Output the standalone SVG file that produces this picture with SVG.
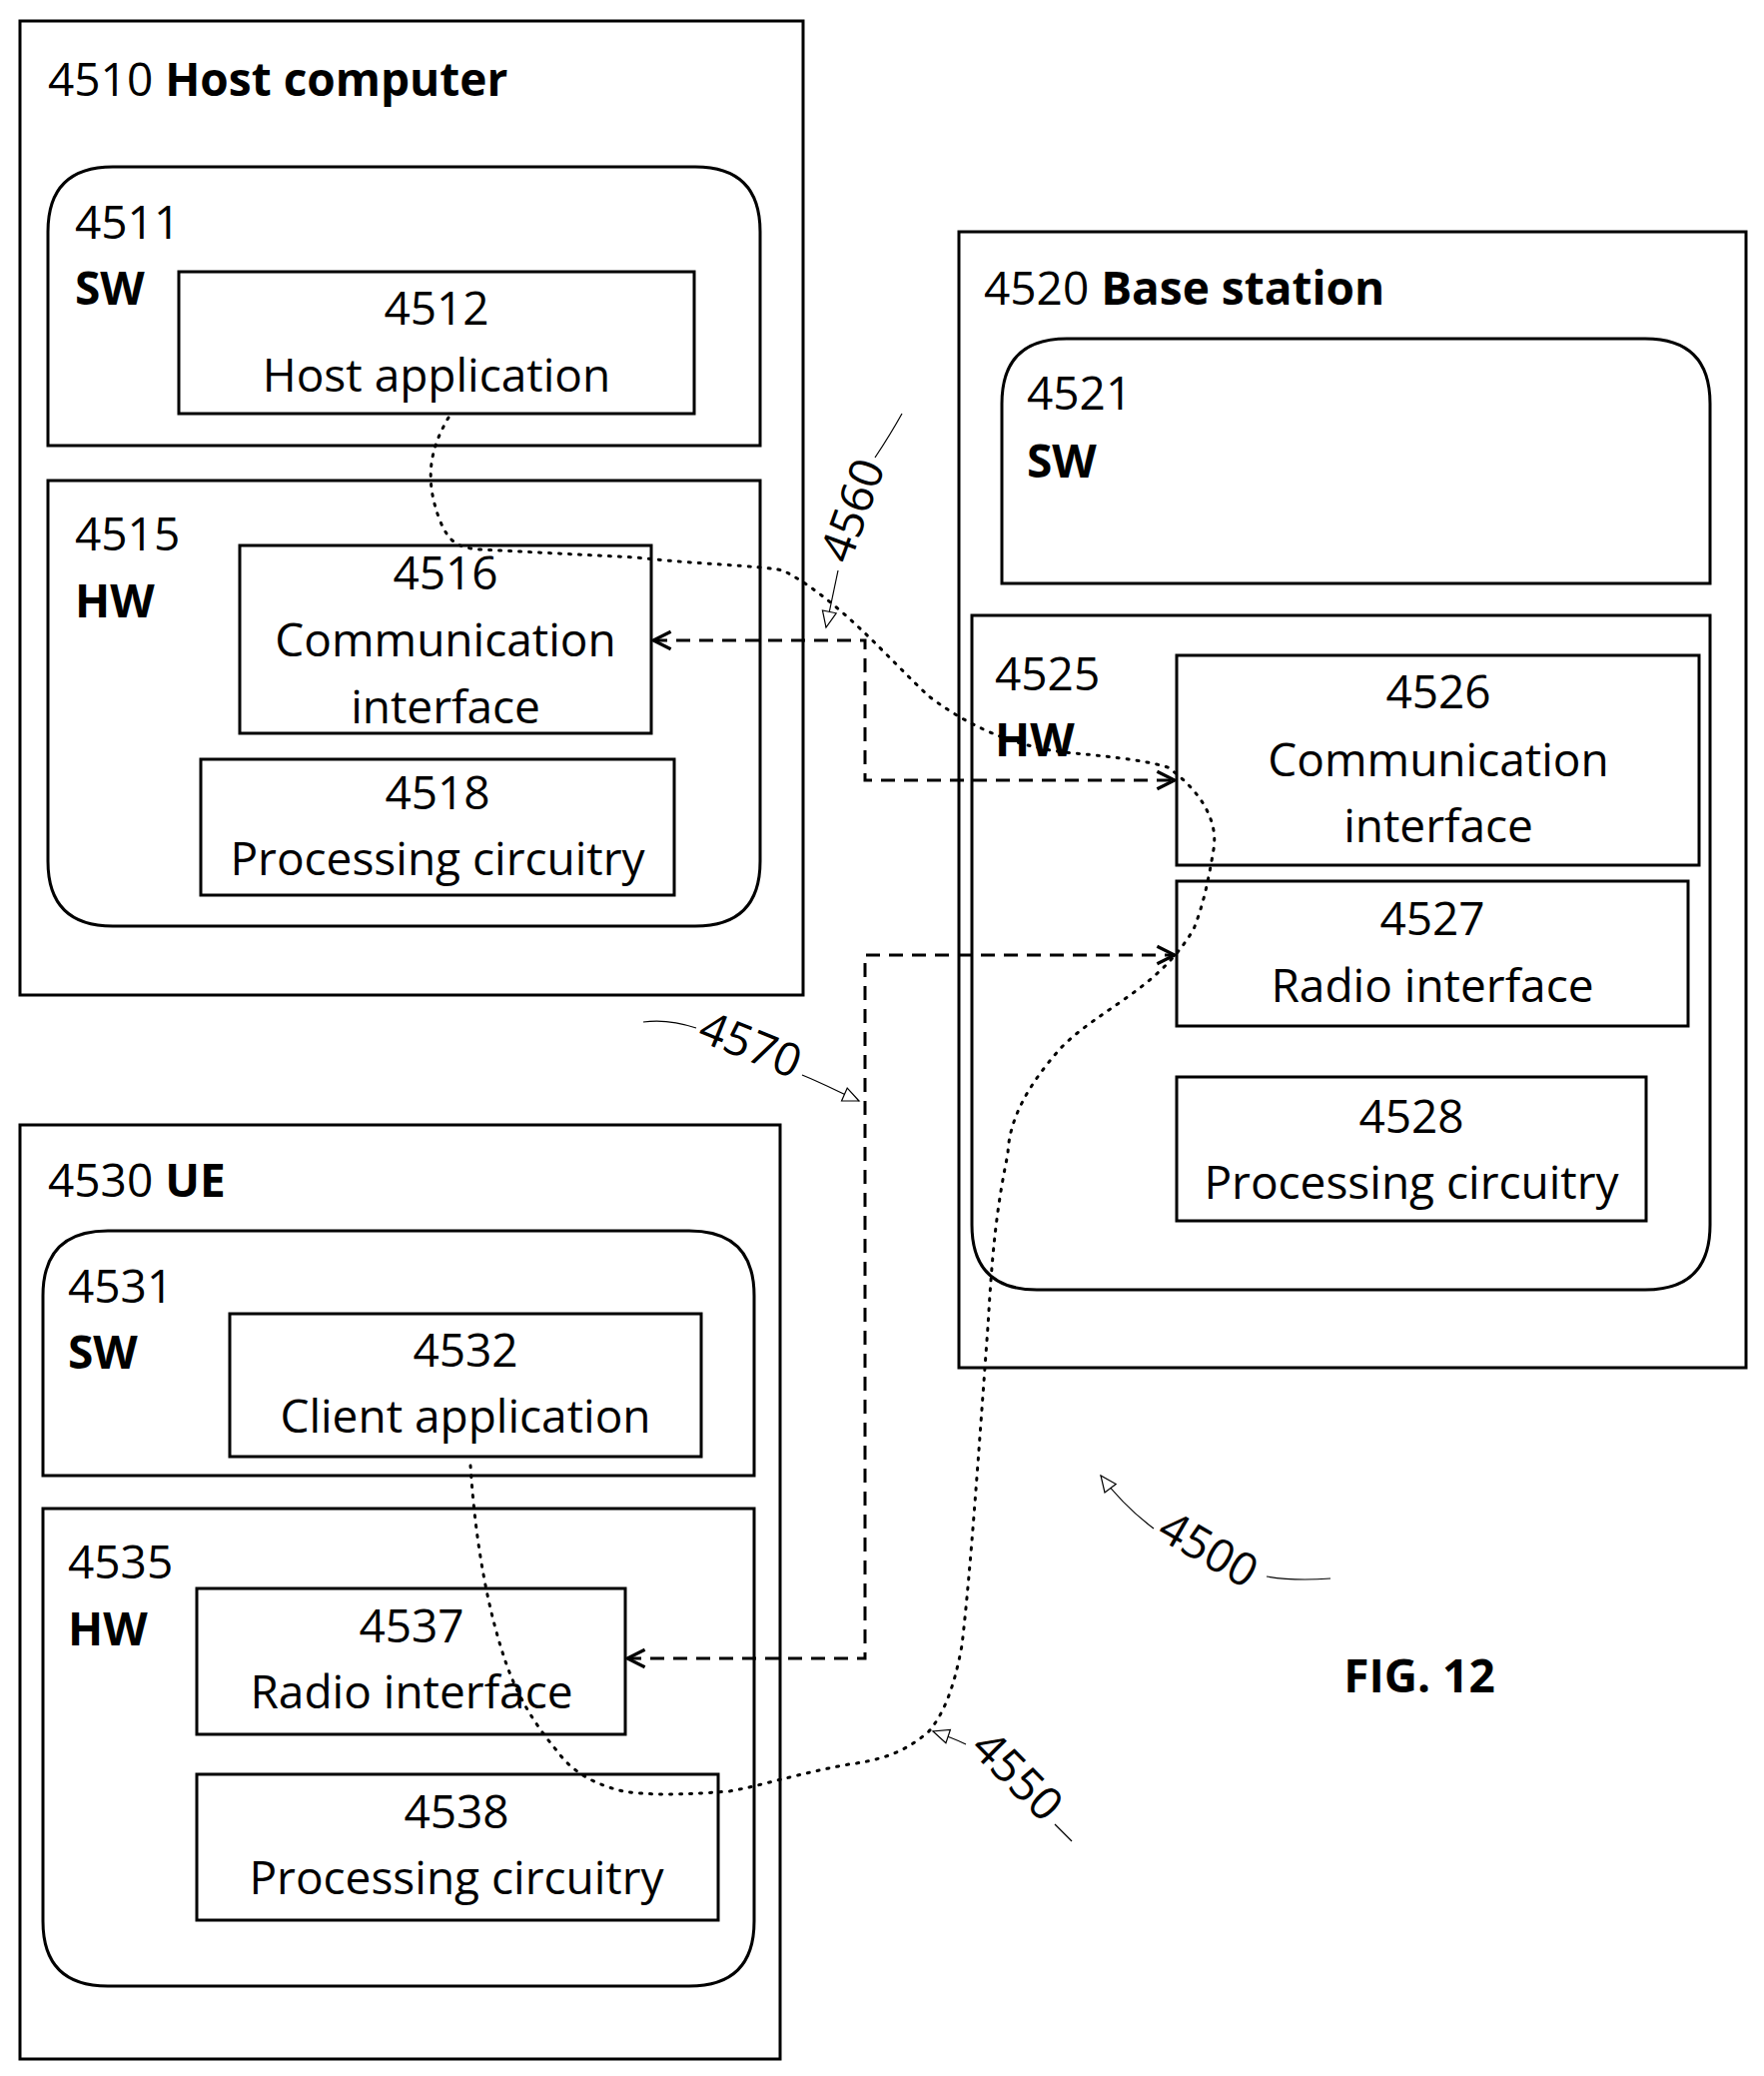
<svg xmlns="http://www.w3.org/2000/svg" width="1766" height="2078" viewBox="0 0 1766 2078">
<style>
.b{fill:none;stroke:#000;stroke-width:3}
.t{font-family:"Open Sans","DejaVu Sans",sans-serif;font-size:46px;fill:#000}
.c{text-anchor:middle}
.bd{font-weight:bold}
.dash{fill:none;stroke:#000;stroke-width:3;stroke-dasharray:14 9}
.dot{fill:none;stroke:#000;stroke-width:3;stroke-dasharray:2 8;stroke-linecap:round}
.ld{fill:none;stroke:#000;stroke-width:1.2}
</style>
<defs>
<marker id="v" viewBox="0 0 20 20" refX="18" refY="10" markerWidth="22" markerHeight="22" markerUnits="userSpaceOnUse" orient="auto-start-reverse"><path d="M2,2 L18,10 L2,18" fill="none" stroke="#000" stroke-width="3"/></marker>
<marker id="tr" viewBox="0 0 20 20" refX="18" refY="10" markerWidth="20" markerHeight="20" markerUnits="userSpaceOnUse" orient="auto"><path d="M2,3 L18,10 L2,17 Z" fill="#fff" stroke="#000" stroke-width="1.2"/></marker>
</defs>
<rect width="1766" height="2078" fill="#fff"/>
<g id="host">
<rect class="b" x="20" y="21" width="784" height="975"/>
<text class="t bd" x="48" y="96"><tspan font-weight="normal">4510</tspan> Host computer</text>
</g>
<g id="n4511">
<path class="b" d="M48,446 V232 Q48,167 113,167 H696 Q761,167 761,232 V446 Z"/>
<text class="t" x="75" y="239">4511</text><text class="t bd" x="75" y="305">SW</text>
</g>
<g id="n4512"><rect class="b" x="179" y="272" width="516" height="142"/>
<text class="t c" x="437" y="325">4512</text><text class="t c" x="437" y="392">Host application</text></g>
<g id="n4515">
<path class="b" d="M48,481 H761 V862 Q761,927 696,927 H113 Q48,927 48,862 Z"/>
<text class="t" x="75" y="551">4515</text><text class="t bd" x="75" y="618">HW</text>
</g>
<g id="n4516"><rect class="b" x="240" y="546" width="412" height="188"/>
<text class="t c" x="446" y="590">4516</text><text class="t c" x="446" y="657">Communication</text><text class="t c" x="446" y="724">interface</text></g>
<g id="n4518"><rect class="b" x="201" y="760" width="474" height="136"/>
<text class="t c" x="438" y="810">4518</text><text class="t c" x="438" y="876">Processing circuitry</text></g>

<g id="bs"><rect class="b" x="960" y="232" width="788" height="1137"/>
<text class="t bd" x="985" y="305"><tspan font-weight="normal">4520</tspan> Base station</text></g>
<g id="n4521"><path class="b" d="M1003,584 V404 Q1003,339 1068,339 H1647 Q1712,339 1712,404 V584 Z"/>
<text class="t" x="1028" y="410">4521</text><text class="t bd" x="1028" y="478">SW</text></g>
<g id="n4525"><path class="b" d="M973,616 H1712 V1226 Q1712,1291 1647,1291 H1038 Q973,1291 973,1226 Z"/>
<text class="t" x="996" y="691">4525</text><text class="t bd" x="996" y="757">HW</text></g>
<g id="n4526"><rect class="b" x="1178" y="656" width="523" height="210"/>
<text class="t c" x="1440" y="709">4526</text><text class="t c" x="1440" y="777">Communication</text><text class="t c" x="1440" y="843">interface</text></g>
<g id="n4527"><rect class="b" x="1178" y="882" width="512" height="145"/>
<text class="t c" x="1434" y="936">4527</text><text class="t c" x="1434" y="1003">Radio interface</text></g>
<g id="n4528"><rect class="b" x="1178" y="1078" width="470" height="144"/>
<text class="t c" x="1413" y="1134">4528</text><text class="t c" x="1413" y="1200">Processing circuitry</text></g>

<g id="ue"><rect class="b" x="20" y="1126" width="761" height="935"/>
<text class="t bd" x="48" y="1198"><tspan font-weight="normal">4530</tspan> UE</text></g>
<g id="n4531"><path class="b" d="M43,1477 V1297 Q43,1232 108,1232 H690 Q755,1232 755,1297 V1477 Z"/>
<text class="t" x="68" y="1304">4531</text><text class="t bd" x="68" y="1370">SW</text></g>
<g id="n4532"><rect class="b" x="230" y="1315" width="472" height="143"/>
<text class="t c" x="466" y="1368">4532</text><text class="t c" x="466" y="1434">Client application</text></g>
<g id="n4535"><path class="b" d="M43,1510 H755 V1923 Q755,1988 690,1988 H108 Q43,1988 43,1923 Z"/>
<text class="t" x="68" y="1580">4535</text><text class="t bd" x="68" y="1647">HW</text></g>
<g id="n4537"><rect class="b" x="197" y="1590" width="429" height="146"/>
<text class="t c" x="412" y="1644">4537</text><text class="t c" x="412" y="1710">Radio interface</text></g>
<g id="n4538"><rect class="b" x="197" y="1776" width="522" height="146"/>
<text class="t c" x="457" y="1830">4538</text><text class="t c" x="457" y="1896">Processing circuitry</text></g>

<g id="connectors">
<path class="dash" d="M654,641 H866 V781 H1176" marker-start="url(#v)" marker-end="url(#v)"/>
<path class="dash" d="M628,1660 H866 V956 H1176" marker-start="url(#v)" marker-end="url(#v)"/>
<path class="dot" d="M449,418 C430,450 425,480 440,520 C450,545 460,548 480,550 L637,558 C700,565 760,566 784,571 C840,600 890,660 930,697 C980,735 1030,750 1076,754 C1120,758 1150,762 1169,768 C1200,790 1220,820 1215,850 C1210,880 1205,905 1195,930 C1160,990 1100,1010 1062,1049 C1030,1085 1010,1120 1009,1155 C995,1220 992,1280 989,1328 C980,1450 972,1570 963,1647 C955,1690 945,1715 930,1733 C905,1755 880,1762 850,1766 C800,1775 760,1788 730,1793 C680,1797 650,1797 624,1793 C590,1785 570,1770 558,1753 C530,1720 515,1690 505,1660 C485,1600 475,1530 471,1467"/>
<path class="ld" d="M903,414 C893,432 884,446 876,458"/>
<path class="ld" d="M839,571 L827,628" marker-end="url(#tr)"/>
<path class="ld" d="M644,1023 C665,1020 682,1024 697,1029"/>
<path class="ld" d="M803,1076 C825,1085 842,1094 860,1102" marker-end="url(#tr)"/>
<path class="ld" d="M1332,1580 C1305,1582 1285,1581 1268,1578"/>
<path class="ld" d="M1155,1530 C1135,1515 1117,1497 1102,1477" marker-end="url(#tr)"/>
<path class="ld" d="M1073,1843 C1066,1836 1061,1831 1056,1826"/>
<path class="ld" d="M967,1746 C955,1740 946,1737 934,1733" marker-end="url(#tr)"/>
<text class="t" transform="translate(857,512) rotate(-70)" text-anchor="middle" dominant-baseline="middle" font-size="44">4560</text>
<text class="t" transform="translate(750,1049) rotate(22)" text-anchor="middle" dominant-baseline="middle" font-size="44">4570</text>
<text class="t" transform="translate(1208,1554) rotate(30)" text-anchor="middle" dominant-baseline="middle" font-size="44">4500</text>
<text class="t" transform="translate(1016,1780) rotate(45)" text-anchor="middle" dominant-baseline="middle" font-size="44">4550</text>
</g>
<text class="t bd c" x="1421" y="1694" font-size="72">FIG. 12</text>
</svg>
